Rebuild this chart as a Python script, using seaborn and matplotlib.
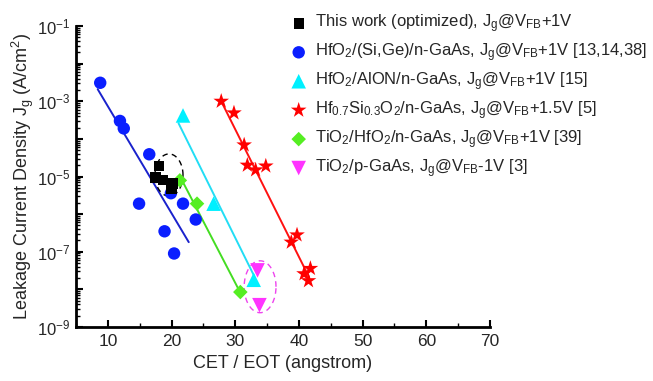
import numpy as np
import pandas as pd
import matplotlib
matplotlib.use('Agg')
import matplotlib.pyplot as plt
import matplotlib.ticker as mticker
import seaborn as sns

# Data
this_x = [18.0, 17.5, 18.7, 20.2, 20.0]
this_y = [1.9e-5, 9.5e-6, 8.0e-6, 6.5e-6, 4.6e-6]

hfsige_x = [8.8, 11.9, 12.5, 16.5, 14.9, 21.8, 19.9, 18.9, 20.4, 23.8]
hfsige_y = [3.1e-3, 3.0e-4, 1.9e-4, 3.9e-5, 1.9e-6, 1.9e-6, 3.6e-6, 3.5e-7, 9.0e-8, 7.2e-7]

alon_x = [21.8, 26.6, 32.9]
alon_y = [4.2e-4, 1.9e-6, 1.8e-8]

hfsio_x = [27.8, 29.8, 31.4, 31.9, 33.2, 34.8, 39.7, 38.8, 41.8, 40.8, 41.5]
hfsio_y = [1.0e-3, 4.9e-4, 6.9e-5, 2.0e-5, 1.5e-5, 1.9e-5, 2.8e-7, 1.8e-7, 3.6e-8, 2.6e-8, 1.7e-8]

tihf_x = [21.3, 24.0, 30.8]
tihf_y = [7.9e-6, 1.9e-6, 8.5e-9]

tio_x = [33.5, 33.8]
tio_y = [3.2e-8, 3.8e-9]

# fit lines (end points)
fit_blue_x = [8.4, 22.7]
fit_blue_y = [2.1e-3, 1.8e-7]
fit_cyan_x = [21.1, 32.9]
fit_cyan_y = [2.6e-4, 2.4e-8]
fit_red_x = [27.8, 41.6]
fit_red_y = [1.0e-3, 2.1e-8]
fit_green_x = [21.4, 30.6]
fit_green_y = [9.5e-6, 9.5e-9]

# dashed ellipses: centre x, centre log10(y), width (x units), height (decades)
ell_black = [19.6, -4.96, 4.4, 1.12]
ell_magenta = [33.9, -7.93, 5.0, 1.38]

labels = [
    r'This work (optimized), J$_\mathregular{g}$@V$_\mathregular{FB}$+1V',
    r'HfO$_\mathregular{2}$/(Si,Ge)/n-GaAs, J$_\mathregular{g}$@V$_\mathregular{FB}$+1V [13,14,38]',
    r'HfO$_\mathregular{2}$/AlON/n-GaAs, J$_\mathregular{g}$@V$_\mathregular{FB}$+1V [15]',
    r'Hf$_\mathregular{0.7}$Si$_\mathregular{0.3}$O$_\mathregular{2}$/n-GaAs, J$_\mathregular{g}$@V$_\mathregular{FB}$+1.5V [5]',
    r'TiO$_\mathregular{2}$/HfO$_\mathregular{2}$/n-GaAs, J$_\mathregular{g}$@V$_\mathregular{FB}$+1V [39]',
    r'TiO$_\mathregular{2}$/p-GaAs, J$_\mathregular{g}$@V$_\mathregular{FB}$-1V [3]',
]

sns.set_style('ticks')
plt.rcParams['font.family'] = ['Liberation Sans', 'DejaVu Sans']
plt.rcParams['mathtext.fontset'] = 'custom'
plt.rcParams['mathtext.rm'] = 'Liberation Sans'
plt.rcParams['mathtext.it'] = 'Liberation Sans:italic'
plt.rcParams['mathtext.bf'] = 'Liberation Sans:bold'

fig = plt.figure(figsize=(6.53, 3.81), dpi=100)
ax = fig.add_axes([0.1164, 0.1417, 0.634, 0.790])


def ellipse(params):
    cx, cy, w, h = params
    t = np.linspace(0, 2 * np.pi, 200)
    return pd.DataFrame({'x': cx + w / 2 * np.cos(t), 'y': 10 ** (cy + h / 2 * np.sin(t))})


def line(xs, ys, color):
    sns.lineplot(x=xs, y=ys, ax=ax, color=color, lw=1.4, estimator=None, sort=False, legend=False)


line(fit_blue_x, fit_blue_y, '#1a22cc')
line(fit_cyan_x, fit_cyan_y, '#22ddf5')
line(fit_red_x, fit_red_y, '#ff1010')
line(fit_green_x, fit_green_y, '#44dd22')

e = ellipse(ell_black)
ax.plot(e['x'], e['y'], color='black', lw=1.0, ls=(0, (4, 3)))
e = ellipse(ell_magenta)
ax.plot(e['x'], e['y'], color='#ee44ee', lw=1.0, ls=(0, (4, 3)))

sns.scatterplot(x=hfsige_x, y=hfsige_y, ax=ax, marker='o', s=80, color='#0a1eff', edgecolor='none', label=labels[1], zorder=3)
sns.scatterplot(x=alon_x, y=alon_y, ax=ax, marker='^', s=110, color='#00f0ff', edgecolor='none', label=labels[2], zorder=3)
sns.scatterplot(x=hfsio_x, y=hfsio_y, ax=ax, marker='*', s=140, color='#ff0000', edgecolor='none', label=labels[3], zorder=3)
sns.scatterplot(x=tihf_x, y=tihf_y, ax=ax, marker='D', s=55, color='#55ee22', edgecolor='none', label=labels[4], zorder=3)
sns.scatterplot(x=tio_x, y=tio_y, ax=ax, marker='v', s=110, color='#ff33ff', edgecolor='none', label=labels[5], zorder=3)
sns.scatterplot(x=this_x, y=this_y, ax=ax, marker='s', s=55, color='black', edgecolor='none', label=labels[0], zorder=4)

ax.set_yscale('log')
ax.set_xlim(5, 70)
ax.set_ylim(1e-9, 1e-1)

ax.xaxis.set_major_locator(mticker.MultipleLocator(10))
ax.xaxis.set_minor_locator(mticker.MultipleLocator(5))
ax.yaxis.set_major_locator(mticker.LogLocator(base=10, numticks=20))
ax.yaxis.set_minor_locator(mticker.LogLocator(base=10, subs=np.arange(2, 10), numticks=20))


def yfmt(v, pos):
    e = int(round(np.log10(v)))
    if e % 2 == 0:
        return ''
    return r'10$^{\mathregular{%d}}$' % e


ax.yaxis.set_major_formatter(mticker.FuncFormatter(yfmt))
ax.yaxis.set_minor_formatter(mticker.NullFormatter())

ax.tick_params(which='major', direction='in', length=5, width=1.5, labelsize=12.5, pad=5, color='black')
ax.tick_params(axis='y', which='major', labelsize=12, pad=4)
ax.tick_params(which='minor', direction='in', length=3, width=1.0, color='black')

for s in ['top', 'right']:
    ax.spines[s].set_visible(False)
for s in ['left', 'bottom']:
    ax.spines[s].set_linewidth(2.0)
    ax.spines[s].set_color('black')

ax.set_xlabel('CET / EOT (angstrom)', fontsize=13, labelpad=4)
ax.set_ylabel(r'Leakage Current Density J$_\mathregular{g}$ (A/cm$^\mathregular{2}$)', fontsize=13, labelpad=1)

handles, labs = ax.get_legend_handles_labels()
order = [labs.index(l) for l in labels]
ax.legend([handles[i] for i in order], [labs[i] for i in order],
          loc='upper left', bbox_to_anchor=(0.437, 0.975), bbox_transform=fig.transFigure,
          frameon=False, fontsize=12, labelspacing=0.38, handletextpad=0.35,
          handlelength=1.2, borderaxespad=0.0, borderpad=0.2)

plt.savefig('out.png', dpi=100)
